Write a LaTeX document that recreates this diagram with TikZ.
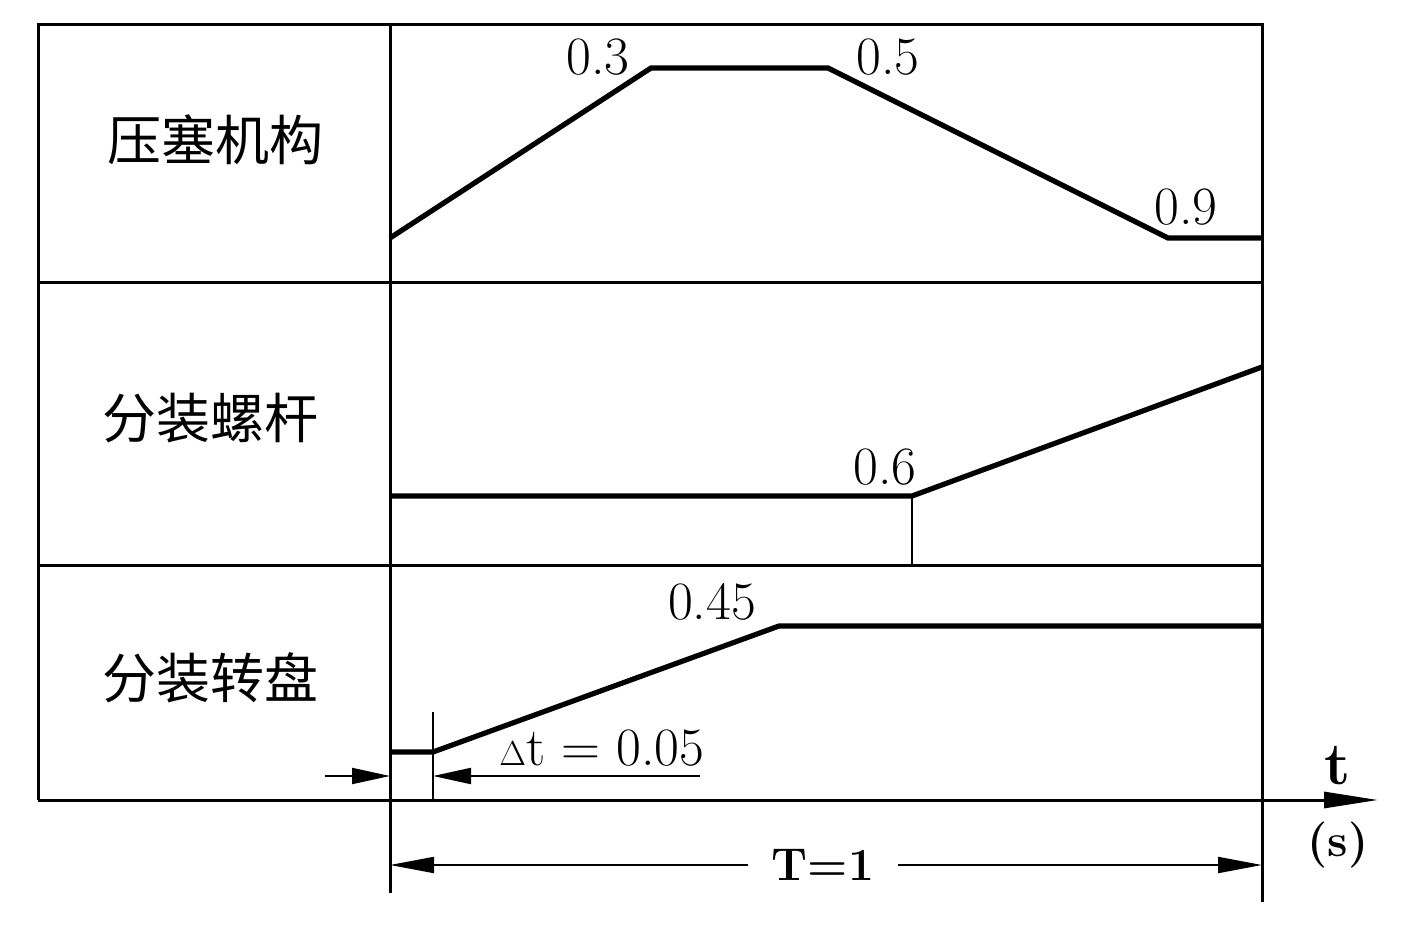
\documentclass[tikz,border=0pt]{standalone}
\usepackage{fontspec}
\newfontfamily\cjk{Noto Sans CJK SC}
\usetikzlibrary{arrows.meta}

\begin{document}
\begin{tikzpicture}[x=0.5pt,y=-0.5pt,
        frame/.style={line width=1.5pt},
        thin/.style={line width=1pt},
        curve/.style={line width=2.6pt, line join=miter},
        tip/.style={-{Triangle[length=19pt,width=8pt]}},
        every node/.style={inner sep=0pt, font=\fontsize{27}{30}\selectfont},
        row/.style={font=\cjk\fontsize{27}{30}\selectfont}]
        \useasboundingbox (0,0) rectangle (1402,940);
        % table
        \draw[frame] (38,800) -- (38,25) -- (1262,25) -- (1262,902);
        \draw[frame] (390,25) -- (390,893);
        \draw[frame] (38,283) -- (1262,283);
        \draw[frame] (38,565) -- (1262,565);
        \draw[frame, -{Triangle[length=27pt,width=8pt]}] (38,800) -- (1378,800);
        \node[font=\fontsize{30}{32}\selectfont] (t) at (1338,766) {\bfseries t};
        \node[font=\fontsize{23}{25}\selectfont] (s) at (1338,845) {\bfseries (s)};
        % rows
        \node[row] (ysjg) at (215,140) {压塞机构};
        \node[row] (fzlg) at (210,418) {分装螺杆};
        \node[row] (fzzp) at (210,678) {分装转盘};
        % 压塞机构
        \coordinate (a0) at (390,238);
        \coordinate (a3) at (651,68);
        \coordinate (a5) at (828,68);
        \coordinate (a9) at (1168,238);
        \coordinate (a1) at (1262,238);
        \draw[curve] (a0) -- (a3) -- (a5) -- (a9) -- (a1);
        \node (l3) at (598,57) {0.3};
        \node (l5) at (888,57) {0.5};
        \node (l9) at (1186,207) {0.9};
        % 分装螺杆
        \coordinate (b0) at (390,496);
        \coordinate (b6) at (912,496);
        \coordinate (b6d) at (912,565);
        \coordinate (b1) at (1262,367);
        \draw[curve] (b0) -- (b6) -- (b1);
        \draw[thin] (b6) -- (b6d);
        \node (l6) at (885,467) {0.6};
        % 分装转盘
        \coordinate (c0) at (390,752);
        \coordinate (c05) at (433,752);
        \coordinate (c45) at (779,626);
        \coordinate (c1) at (1262,626);
        \draw[curve] (c0) -- (c05) -- (c45) -- (c1);
        \node (l45) at (712,602) {0.45};
        % dimensions
        \coordinate (dt) at (433,712);
        \coordinate (db) at (433,800);
        \coordinate (dl) at (325,776);
        \coordinate (d0) at (390,776);
        \coordinate (d05) at (433,776);
        \coordinate (dr) at (700,776);
        \draw[thin] (dt) -- (db);
        \draw[thin, tip] (dl) -- (d0);
        \draw[thin, tip] (dr) -- (d05);
        \node (ldt) at (602,748) {{\fontsize{17}{18}\selectfont$\Delta$}t = 0.05};
        \coordinate (e0) at (390,865);
        \coordinate (e1) at (1262,865);
        \draw[thin, {Triangle[length=22pt,width=8pt]}-{Triangle[length=22pt,width=8pt]}] (e0) -- (e1);
        \node[fill=white, inner xsep=12pt, inner ysep=2pt, font=\fontsize{23}{25}\selectfont] (lT) at (823,865) {\bfseries T=1};
    \end{tikzpicture}
\end{document}
